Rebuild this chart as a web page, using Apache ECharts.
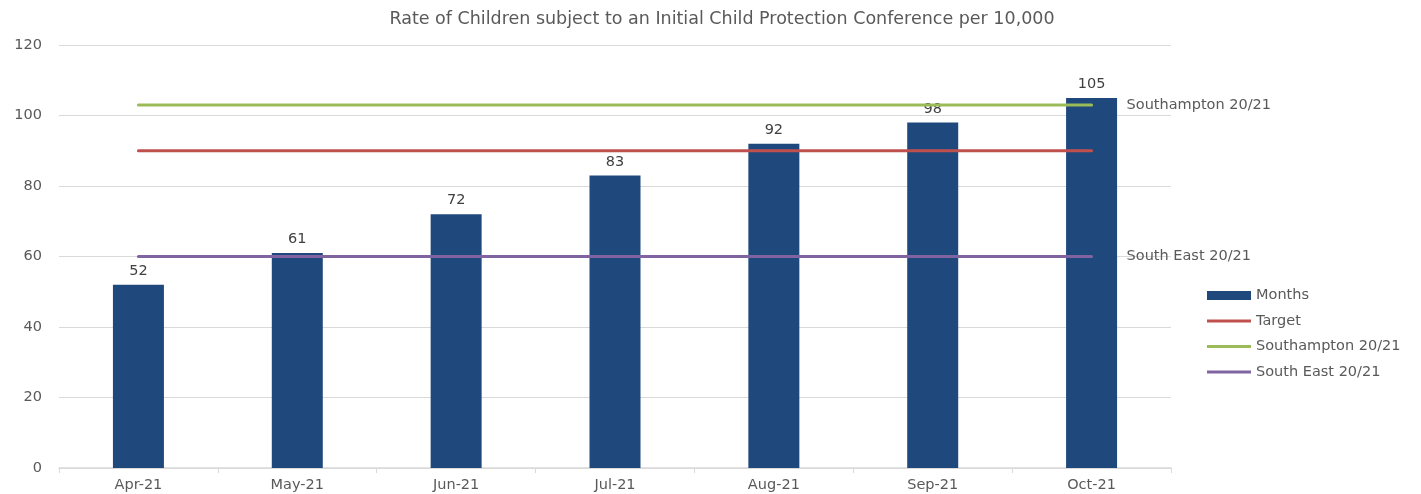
<!DOCTYPE html>
<html><head><meta charset="utf-8">
<script src="https://cdn.jsdelivr.net/npm/echarts@6/dist/echarts.min.js"></script>
<style>html,body{margin:0;padding:0;background:#fff}#c{width:1421px;height:494px}</style>
</head><body><div id="c"></div>
<script>
const categories = ['Apr-21','May-21','Jun-21','Jul-21','Aug-21','Sep-21','Oct-21'];
const months = [52, 61, 72, 83, 92, 98, 105];
const target = [90, 90, 90, 90, 90, 90, 90];
const southampton = [103, 103, 103, 103, 103, 103, 103];
const southEast = [60, 60, 60, 60, 60, 60, 60];
const yTicks = {min: 0, max: 120, interval: 20};
const title = 'Rate of Children subject to an Initial Child Protection Conference per 10,000';

const font = 'DejaVu Sans';
const grey = '#595959';
const fs = 14.5;
const chart = echarts.init(document.getElementById('c'));
function lineSeries(name, data, color, label) {
  const s = {
    name, type: 'line', data, symbol: 'none', silent: true,
    lineStyle: {color, width: 3, cap: 'round'}, itemStyle: {color},
    z: 3
  };
  if (label) {
    s.endLabel = {show: true, formatter: label, color: grey, fontFamily: font, fontSize: fs, distance: 35};
  }
  return s;
}
chart.setOption({
  animation: false,
  title: {text: title, left: 717, top: 5, textAlign: 'center',
    textStyle: {fontFamily: font, fontSize: 17.5, fontWeight: 'normal', color: grey}},
  grid: {left: 59, right: 250, top: 45, bottom: 26, containLabel: false},
  legend: {
    orient: 'vertical', left: 1202, top: 283, itemGap: 10.5, itemWidth: 44, itemHeight: 14,
    textStyle: {fontFamily: font, fontSize: fs, color: grey, padding: [0, 0, 0, 0]},
    data: [
      {name: 'Months', icon: 'path://M0,0H44V9H0Z'},
      {name: 'Target', icon: 'path://M0,0H44V3H0Z'},
      {name: 'Southampton 20/21', icon: 'path://M0,0H44V3H0Z'},
      {name: 'South East 20/21', icon: 'path://M0,0H44V3H0Z'}
    ]
  },
  xAxis: {
    type: 'category', data: categories, boundaryGap: true,
    axisLine: {lineStyle: {color: '#d9d9d9', width: 1.5}},
    axisTick: {show: true, length: 5, lineStyle: {color: '#d9d9d9'}},
    axisLabel: {fontFamily: font, fontSize: fs, color: grey, margin: 10}
  },
  yAxis: {
    type: 'value', min: yTicks.min, max: yTicks.max, interval: yTicks.interval,
    axisLine: {show: false}, axisTick: {show: false},
    splitLine: {lineStyle: {color: '#d9d9d9', width: 1}},
    axisLabel: {fontFamily: font, fontSize: fs, color: grey, margin: 17}
  },
  series: [
    {name: 'Months', type: 'bar', data: months, barWidth: 51,
      itemStyle: {color: '#1f497d'},
      label: {show: true, position: 'top', fontFamily: font, fontSize: fs, color: '#404040', distance: 6}},
    lineSeries('Target', target, '#c0504d'),
    lineSeries('Southampton 20/21', southampton, '#9bbb59', 'Southampton 20/21'),
    lineSeries('South East 20/21', southEast, '#8064a2', 'South East 20/21')
  ]
});
</script></body></html>
